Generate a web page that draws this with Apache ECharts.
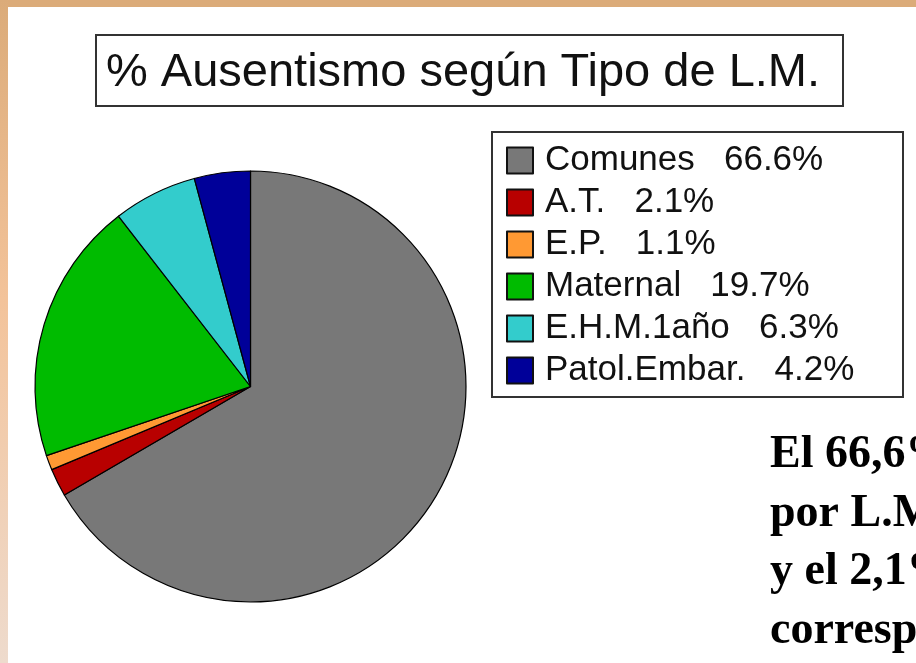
<!DOCTYPE html>
<html>
<head>
<meta charset="utf-8">
<script src="https://cdn.jsdelivr.net/npm/echarts@6/dist/echarts.min.js"></script>
<style>
html,body{margin:0;padding:0;background:#fff;}
#chart{width:916px;height:663px;}
</style>
</head>
<body>
<div id="chart"></div>
<script>
const chartTitle = '% Ausentismo según Tipo de L.M.';
const categories = ['Comunes', 'A.T.', 'E.P.', 'Maternal', 'E.H.M.1año', 'Patol.Embar.'];
const values = [66.6, 2.1, 1.1, 19.7, 6.3, 4.2];
const colors = ['#787878', '#B80000', '#FF9933', '#00BB00', '#33CCCC', '#000099'];
const noteLines = ['El 66,6%', 'por L.M.', 'y el 2,1%', 'corresponde'];

const chart = echarts.init(document.getElementById('chart'), null, {renderer: 'canvas'});

const pieData = categories.map((c, i) => ({
  name: c,
  value: values[i],
  itemStyle: {color: colors[i]}
}));

const valueByName = {};
categories.forEach((c, i) => { valueByName[c] = values[i]; });

const graphics = [
  {type: 'rect', shape: {x: 0, y: 0, width: 916, height: 7}, style: {fill: '#DBAB79'}, silent: true},
  {type: 'rect', shape: {x: 0, y: 0, width: 8, height: 663},
   style: {fill: new echarts.graphic.LinearGradient(0, 0, 0, 1, [
     {offset: 0, color: '#DBAB79'},
     {offset: 0.45, color: '#F3C39A'},
     {offset: 1, color: '#EEDBCD'}
   ])}, silent: true},
  {type: 'rect', shape: {x: 96, y: 35, width: 747, height: 71},
   style: {fill: 'none', stroke: '#333', lineWidth: 2}, silent: true},
  {type: 'rect', shape: {x: 492, y: 132, width: 411, height: 265},
   style: {fill: 'none', stroke: '#333', lineWidth: 2}, silent: true}
];

const baseY = 455.5, lineStep = 58.5;
noteLines.forEach((t, i) => {
  graphics.push({
    type: 'text', x: 770, y: baseY + i * lineStep, silent: true,
    style: {text: t, fill: '#000', font: 'bold 46px "Liberation Serif", "Times New Roman", serif',
            verticalAlign: 'middle', align: 'left'}
  });
});

chart.setOption({
  animation: false,
  backgroundColor: '#ffffff',
  title: {
    text: chartTitle,
    left: 106,
    top: 50,
    padding: 0,
    textStyle: {fontFamily: '"Liberation Sans", Arial, sans-serif', fontSize: 47, fontWeight: 'normal', color: '#111'}
  },
  legend: {
    orient: 'vertical',
    left: 506,
    top: 143,
    padding: 0,
    itemWidth: 26,
    itemHeight: 26,
    itemGap: 7,
    icon: 'rect',
    selectedMode: false,
    itemStyle: {borderColor: '#111', borderWidth: 2},
    textStyle: {fontFamily: '"Liberation Sans", Arial, sans-serif', fontSize: 35, color: '#111', padding: [0, 0, 0, 7]},
    formatter: name => name + '   ' + valueByName[name].toFixed(1) + '%',
    data: categories
  },
  graphic: graphics,
  series: [{
    type: 'pie',
    center: [250.5, 386.5],
    radius: 215.5,
    startAngle: 90,
    clockwise: true,
    label: {show: false},
    labelLine: {show: false},
    emphasis: {disabled: true},
    itemStyle: {borderColor: '#000', borderWidth: 1.2},
    data: pieData
  }]
});
</script>
</body>
</html>
